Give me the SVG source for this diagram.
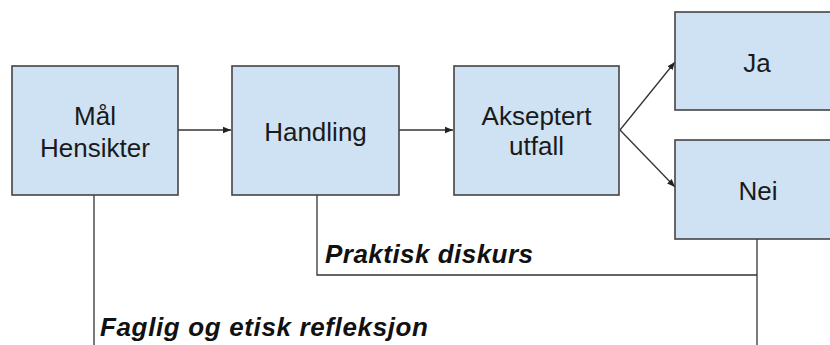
<svg xmlns="http://www.w3.org/2000/svg" width="830" height="345" viewBox="0 0 830 345">
  <defs>
    <marker id="arrow" markerUnits="userSpaceOnUse" markerWidth="9" markerHeight="8" refX="8" refY="4" orient="auto">
      <path d="M0,0.8 L8,4 L0,7.2 Z" fill="#222"/>
    </marker>
    <style>
      .box { fill: #cfe2f3; stroke: #444; stroke-width: 1.6; }
      .lbl { font-family: "Liberation Sans", Arial, sans-serif; font-size: 26px; fill: #1a1a1a; text-anchor: middle; }
      .note { font-family: "Liberation Sans", Arial, sans-serif; font-size: 26px; font-weight: bold; font-style: italic; fill: #111; }
      .wire { fill: none; stroke: #333; stroke-width: 1.3; }
    </style>
  </defs>
  <rect width="830" height="345" fill="#fff"/>

  <g id="connectors">
    <line class="wire" x1="178" y1="130" x2="231" y2="130" marker-end="url(#arrow)"/>
    <line class="wire" x1="399" y1="130" x2="453" y2="130" marker-end="url(#arrow)"/>
    <line class="wire" x1="620" y1="130" x2="675" y2="62" marker-end="url(#arrow)"/>
    <line class="wire" x1="620" y1="130" x2="675" y2="187" marker-end="url(#arrow)"/>
    <polyline class="wire" points="94,195 94,345"/>
    <polyline class="wire" points="317,195 317,275 757,275"/>
    <polyline class="wire" points="757,239 757,345"/>
  </g>

  <g id="maal">
    <rect class="box" x="12" y="66" width="166" height="129"/>
    <text class="lbl" x="95" y="125">Mål</text>
    <text class="lbl" x="95" y="157">Hensikter</text>
  </g>

  <g id="handling">
    <rect class="box" x="232" y="66" width="167" height="129"/>
    <text class="lbl" x="315.5" y="141">Handling</text>
  </g>

  <g id="akseptert">
    <rect class="box" x="454" y="66" width="165" height="129"/>
    <text class="lbl" x="536.5" y="125">Akseptert</text>
    <text class="lbl" x="536.5" y="155">utfall</text>
  </g>

  <g id="ja">
    <rect class="box" x="675" y="12" width="170" height="98"/>
    <text class="lbl" x="757" y="72">Ja</text>
  </g>

  <g id="nei">
    <rect class="box" x="675" y="140" width="170" height="99"/>
    <text class="lbl" x="758" y="200">Nei</text>
  </g>

  <g id="labels">
    <text class="note" x="325" y="263" textLength="208">Praktisk diskurs</text>
    <text class="note" x="100" y="336" textLength="328">Faglig og etisk refleksjon</text>
  </g>
</svg>
